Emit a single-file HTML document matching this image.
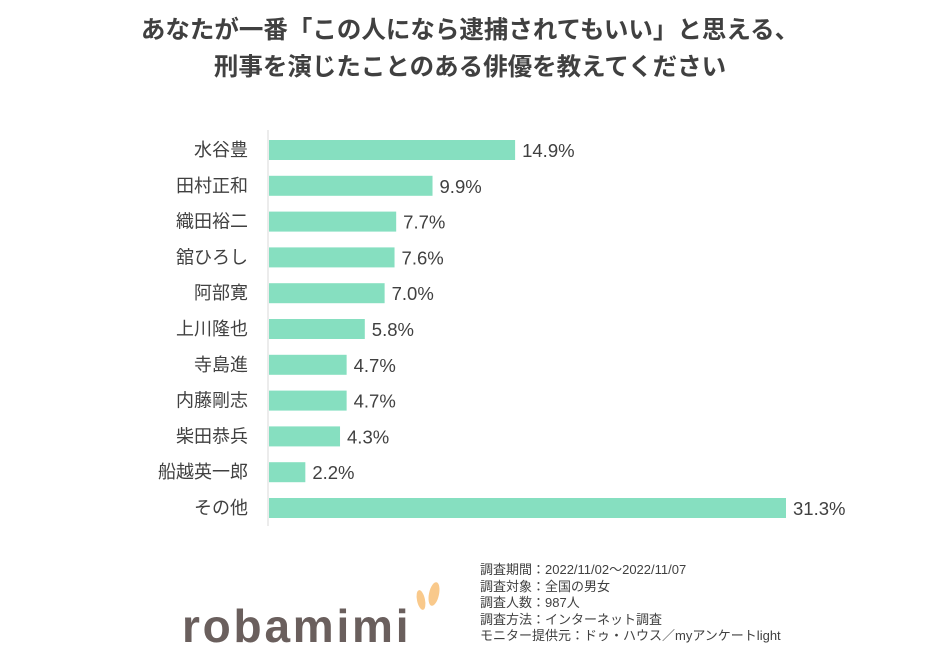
<!DOCTYPE html>
<html><head><meta charset="utf-8">
<style>
body{margin:0;background:#fff;width:940px;height:659px;overflow:hidden;font-family:"Liberation Sans","Noto Sans CJK JP",sans-serif;}
#title{position:absolute;left:0;top:12px;width:940px;text-align:center;font-size:24.5px;font-weight:bold;color:#404040;line-height:37px;}
svg{position:absolute;left:0;top:0;}
.note{position:absolute;left:480px;top:562px;font-size:13px;color:#404040;line-height:16.5px;}
</style></head><body>
<div id="title">あなたが一番「この人になら逮捕されてもいい」と思える、<br>刑事を演じたことのある俳優を教えてください</div>
<svg id="chart" width="940" height="659"></svg>
<div class="note">調査期間：2022/11/02～2022/11/07<br>調査対象：全国の男女<br>調査人数：987人<br>調査方法：インターネット調査<br>モニター提供元：ドゥ・ハウス／myアンケートlight</div>
<script>
const categories=["水谷豊","田村正和","織田裕二","舘ひろし","阿部寛","上川隆也","寺島進","内藤剛志","柴田恭兵","船越英一郎","その他"];
const values=[14.9,9.9,7.7,7.6,7.0,5.8,4.7,4.7,4.3,2.2,31.3];
const labels=["14.9%","9.9%","7.7%","7.6%","7.0%","5.8%","4.7%","4.7%","4.3%","2.2%","31.3%"];
const NS="http://www.w3.org/2000/svg";
const svg=document.getElementById('chart');
const x0=269, pxPer=(786-269)/31.3;
const xs=v=>x0+v*pxPer;
const yc=i=>150+i*35.8;
function mk(t,a){const e=document.createElementNS(NS,t);for(const k in a)e.setAttribute(k,a[k]);svg.appendChild(e);return e;}
const ax=mk('line',{x1:268,x2:268,y1:130,y2:526,stroke:'#d9d9d9','stroke-width':1});


categories.forEach((c,i)=>{
 const r=mk('rect',{x:x0,y:yc(i)-10,width:xs(values[i])-x0,height:20,fill:'#86dfc0'});
 
 
 const t=mk('text',{x:248,y:yc(i)+6,'text-anchor':'end','font-size':18,fill:'#404040'});
 t.textContent=c;
 
 
 const v=mk('text',{x:xs(values[i])+7,y:yc(i)+7,'font-size':18.5,fill:'#404040'});
 v.textContent=labels[i];
 
 
});
const e1=mk('ellipse',{cx:434,cy:594,rx:5,ry:12,fill:'#f9c98b',transform:'rotate(12 434 594)'});


const e2=mk('ellipse',{cx:421,cy:600,rx:4,ry:10,fill:'#f9c98b',transform:'rotate(-12 421 600)'});


const lt=mk('text',{x:182,y:642,'font-size':46,'font-weight':'bold',fill:'#6a5f5d','letter-spacing':'1.5',textLength:228});
lt.textContent='robamimi';


</script>
</body></html>
